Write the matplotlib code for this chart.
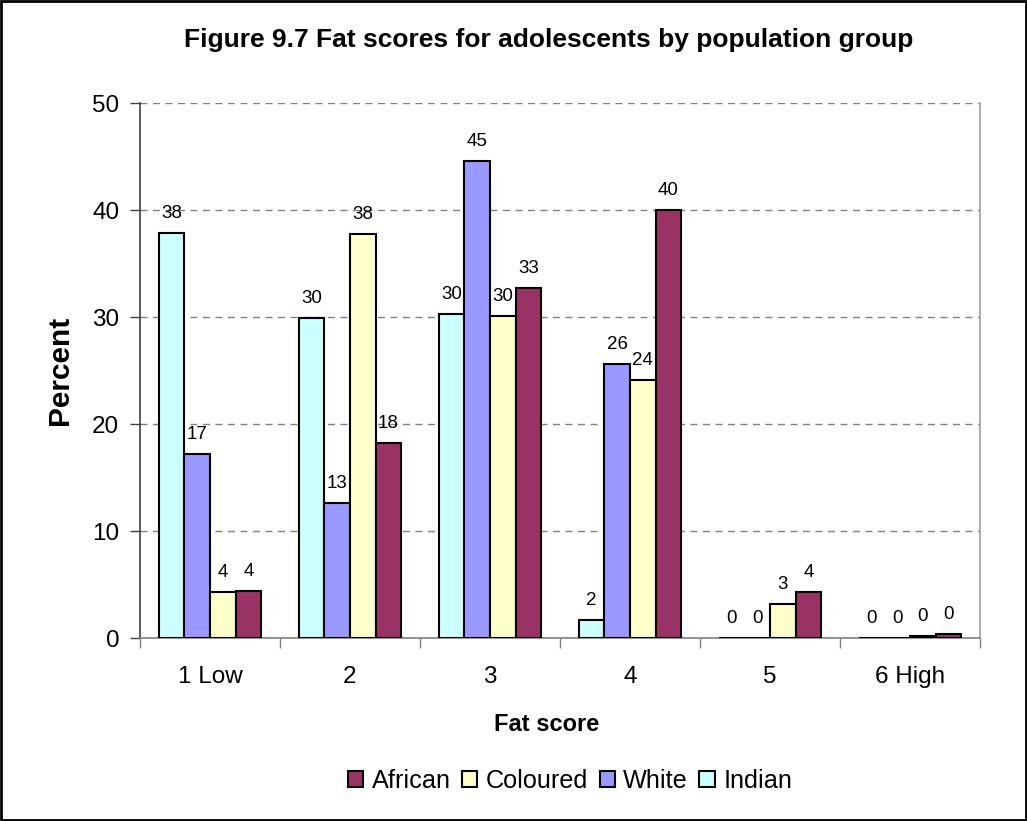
import matplotlib
matplotlib.use("Agg")
import matplotlib.pyplot as plt
from matplotlib.patches import Patch, Rectangle
import numpy as np

plt.rcParams['font.family'] = ['Liberation Sans', 'DejaVu Sans']

categories = ["1 Low", "2", "3", "4", "5", "6 High"]
series_names = ["Indian", "White", "Coloured", "African"]
indian = [37.9, 29.9, 30.3, 1.7, 0.0, 0.0]
white = [17.2, 12.6, 44.6, 25.6, 0.0, 0.0]
coloured = [4.3, 37.8, 30.1, 24.1, 3.2, 0.2]
african = [4.4, 18.2, 32.7, 40.0, 4.3, 0.4]
colors = ["#CCFFFF", "#9999FF", "#FFFFCC", "#993366"]
yticks = [0, 10, 20, 30, 40, 50]

values = [indian, white, coloured, african]

fig = plt.figure(figsize=(10.27, 8.21), dpi=100)
ax = fig.add_axes([140/1027, 1-638/821, 840/1027, 534.5/821])

x = np.arange(len(categories))
w = 0.183
for j, (name, vals, col) in enumerate(zip(series_names, values, colors)):
    pos = x + (j - 1.5) * w
    ax.bar(pos, vals, width=w, color=col, edgecolor="black", linewidth=1.5, zorder=3, label=name)
    for xp, v in zip(pos, vals):
        ax.annotate(f"{round(v):d}", xy=(xp, v), xytext=(0, 8), textcoords="offset points",
                    ha="center", va="bottom", fontsize=13.5, zorder=4)

ax.set_xlim(-0.5, len(categories) - 0.5)
ax.set_ylim(0, 50)
ax.set_yticks(yticks)
ax.set_yticklabels([str(t) for t in yticks], fontsize=17.5)
ax.yaxis.grid(True, linestyle=(0, (5, 4)), color="#808080", linewidth=1, zorder=0)
ax.tick_params(axis="y", direction="out", length=7, width=1, pad=8, color="#404040")

ax.set_xticks(np.arange(len(categories) + 1) - 0.5)
ax.set_xticklabels([])
ax.set_xticks(x, minor=True)
ax.set_xticklabels(categories, minor=True, fontsize=17.5)
ax.tick_params(axis="x", which="major", direction="out", length=7, width=1, color="#808080")
ax.tick_params(axis="x", which="minor", length=0, pad=20.5)

ax.spines["top"].set_visible(False)
ax.spines["left"].set_color("#404040")
ax.spines["bottom"].set_color("#808080")
ax.spines["right"].set_color("#A0A0A0")
for s in ["left", "bottom", "right"]:
    ax.spines[s].set_linewidth(1.2)

ax.set_ylabel("Percent", fontsize=21.5, fontweight="bold", va="center")
ax.yaxis.set_label_coords((60 - 140) / 840, 0.5)
ax.set_xlabel("Fat score", fontsize=17, fontweight="bold", va="center")
ax.xaxis.set_label_coords((547 - 140) / 840, (638 - 724) / 534.5)

fig.text(549/1027, 1-40/821, "Figure 9.7 Fat scores for adolescents by population group",
         ha="center", va="center", fontsize=19, fontweight="bold")

order = ["African", "Coloured", "White", "Indian"]
handles = [Patch(facecolor=colors[series_names.index(n)], edgecolor="black", linewidth=1.5) for n in order]
fig.legend(handles, order, loc="center", bbox_to_anchor=(570/1027, 1-781/821), ncol=4,
           frameon=False, fontsize=18.2, handlelength=0.6, handleheight=0.6, handletextpad=0.34,
           columnspacing=0.45)

fig.patches.append(Rectangle((0.001, 0.001), 0.998, 0.998, transform=fig.transFigure,
                             fill=False, edgecolor="black", linewidth=2))

fig.savefig("out.png", dpi=100)
